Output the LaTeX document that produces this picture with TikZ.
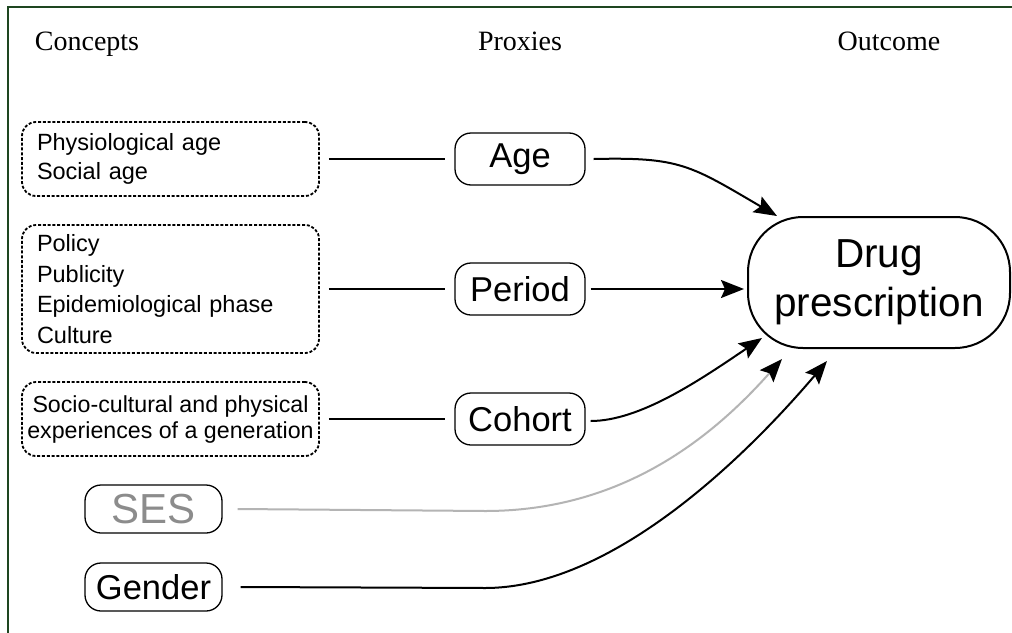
\documentclass[tikz,border=0pt]{standalone}
\usepackage{fontspec}
\setmainfont{Liberation Serif}
\newfontfamily\arialf{Liberation Sans}
\usetikzlibrary{arrows.meta}
\definecolor{framec}{HTML}{1E4620}
\definecolor{sesline}{HTML}{B4B4B4}
\definecolor{sestext}{HTML}{8C8C8C}
\begin{document}
\begin{tikzpicture}[x=1pt,y=-1pt,
  concept/.style={draw, dash pattern=on 3pt off 1.8pt, line width=1.8pt, rounded corners=14pt,
     minimum width=297pt, inner sep=0pt, font=\arialf\fontsize{23.5}{29}\selectfont},
  proxy/.style={draw, line width=1.3pt, rounded corners=16pt, minimum width=130pt,
     minimum height=52pt, inner sep=0pt, font=\arialf\fontsize{34.5}{40}\selectfont},
  head/.style={font=\fontsize{28}{32}\selectfont, anchor=base},
  link/.style={line width=2pt},
  arr/.style={line width=2pt, -{Stealth[length=23pt,width=18pt,inset=4pt,color=black]}},
]
\useasboundingbox (0,0) rectangle (1012,632);
\fill[white] (0,0) rectangle (1012,632);
\draw[framec, line width=1.5pt] (8,640) -- (8,7) -- (1020,7);

% headers
\node[head] (hc) at (87,50) {Concepts};
\node[head] (hp) at (520,50) {Proxies};
\node[head] (ho) at (889,50) {Outcome};

% concepts
\node[concept, minimum height=74pt, text width=267pt, align=left] (c1) at (170.5,159)
  {Physiological age\\Social age};
\node[concept, minimum height=128pt, text width=267pt, align=left,
  font=\arialf\fontsize{23.5}{30.5}\selectfont] (c2) at (170.5,289)
  {Policy\\Publicity\\Epidemiological phase\\Culture};
\node[concept, minimum height=74pt, align=center,
  font=\arialf\fontsize{23.2}{26}\selectfont] (c3) at (170.5,419)
  {Socio-cultural and physical\\experiences of a generation};

% proxies
\node[proxy] (age) at (520,159) {Age};
\node[proxy] (period) at (520,289) {Period};
\node[proxy] (cohort) at (520,419) {Cohort};

% other factors
\node[proxy, minimum width=137pt, minimum height=48pt, text=sestext,
  font=\arialf\fontsize{42}{46}\selectfont] (ses) at (153.5,509) {SES};
\node[proxy, minimum width=137pt, minimum height=48pt] (gender) at (153.5,587) {Gender};

% outcome
\node[draw, line width=2pt, rounded corners=55pt, minimum width=262pt, minimum height=131pt,
  inner sep=0pt, align=center, font=\arialf\fontsize{40.5}{49}\selectfont] (drug) at (879,282.5)
  {Drug\\prescription};

% concept -> proxy links
\draw[link] ([xshift=9pt]c1.east) -- ([xshift=-9pt]age.west);
\draw[link] ([xshift=9pt]c2.east) -- ([xshift=-9pt]period.west);
\draw[link] ([xshift=9pt]c3.east) -- ([xshift=-9pt]cohort.west);

% arrows to outcome
\draw[arr] ([xshift=8pt]age.east) .. controls (680,157) and (690,165) .. ([xshift=30pt]drug.north west);
\draw[arr] ([xshift=5pt]period.east) -- ([xshift=-3pt,yshift=-6.5pt]drug.west);
\draw[arr] ([xshift=5pt,yshift=-2pt]cohort.east) .. controls (640,421) and (700,380) .. ([xshift=15pt,yshift=11pt]drug.south west);

\coordinate (sesmid) at (485,511);
\coordinate (gendmid) at (485,588);
\draw[arr, sesline] ([xshift=15pt]ses.east) -- (sesmid)
   .. controls (620,511) and (710,440) .. ([xshift=35pt,yshift=-10pt]drug.south west);
\draw[arr] ([xshift=18pt]gender.east) -- (gendmid)
   .. controls (620,588) and (760,440) .. ([xshift=80pt,yshift=-12pt]drug.south west);
\end{tikzpicture}
\end{document}
